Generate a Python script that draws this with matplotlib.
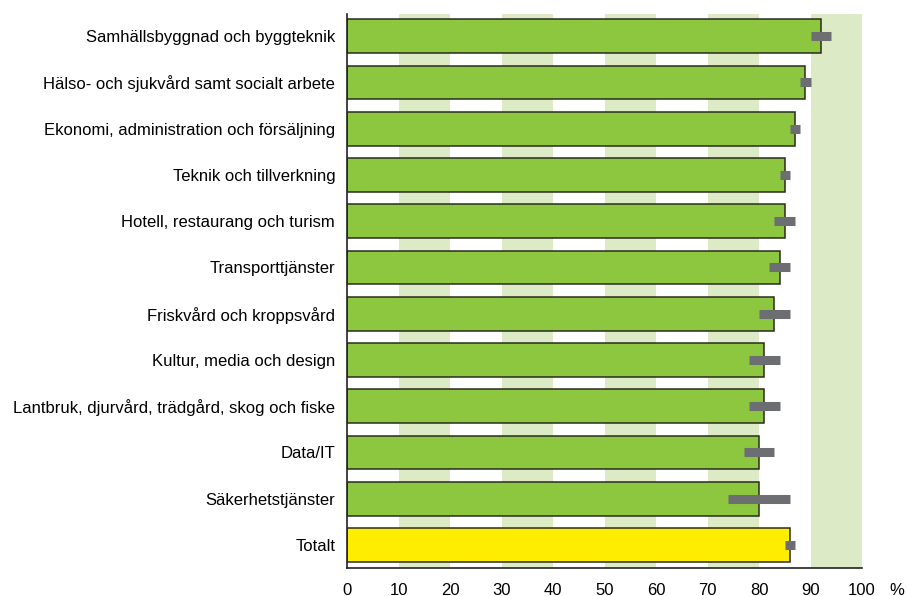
import numpy as np
import matplotlib.pyplot as plt

plt.rcParams['font.family'] = ['Liberation Sans', 'DejaVu Sans']

# Data
categories = [
    "Samhällsbyggnad och byggteknik",
    "Hälso- och sjukvård samt socialt arbete",
    "Ekonomi, administration och försäljning",
    "Teknik och tillverkning",
    "Hotell, restaurang och turism",
    "Transporttjänster",
    "Friskvård och kroppsvård",
    "Kultur, media och design",
    "Lantbruk, djurvård, trädgård, skog och fiske",
    "Data/IT",
    "Säkerhetstjänster",
    "Totalt",
]
values = [92, 89, 87, 85, 85, 84, 83, 81, 81, 80, 80, 86]
errors = [2, 1, 1, 1, 2, 2, 3, 3, 3, 3, 6, 1]
xticks = [0, 10, 20, 30, 40, 50, 60, 70, 80, 90, 100]

green = "#8dc63f"
yellow = "#ffed00"
band = "#dcebc5"
errcol = "#6d6e71"

fig = plt.figure(figsize=(9.07, 5.96), dpi=100)
ax = fig.add_axes([0.3826, 0.047, 0.5678, 0.9295])

# background bands
for lo in [10, 30, 50, 70, 90]:
    ax.axvspan(lo, lo + 10, color=band, lw=0, zorder=0)

y = np.arange(len(categories))
colors = [green] * (len(categories) - 1) + [yellow]
ax.barh(y, values, height=0.73, color=colors, edgecolor="#2b2b1f",
        linewidth=1.1, zorder=2)

# error segments
for yi, v, e in zip(y, values, errors):
    ax.plot([v - e, v + e], [yi, yi], color=errcol, lw=6.5,
            solid_capstyle="butt", zorder=3)

ax.set_xlim(0, 100)
ax.set_ylim(len(categories) - 0.5, -0.48)
ax.set_yticks(y)
ax.set_yticklabels(categories, fontsize=12)
ax.set_xticks(xticks)
ax.set_xticklabels([str(t) for t in xticks], fontsize=12)
ax.tick_params(axis="y", length=0, pad=8.5)
ax.tick_params(axis="x", length=0, pad=10.5)

for s in ["top", "right"]:
    ax.spines[s].set_visible(False)
ax.spines["left"].set_color("#222222")
ax.spines["bottom"].set_color("#222222")
ax.spines["left"].set_linewidth(1.2)
ax.spines["bottom"].set_linewidth(1.2)

ax.annotate("%", xy=(100, 0), xycoords=("data", "axes fraction"),
            xytext=(25, -10.5), textcoords="offset points", fontsize=12,
            ha="center", va="top")

fig.savefig("out.png", dpi=100)
